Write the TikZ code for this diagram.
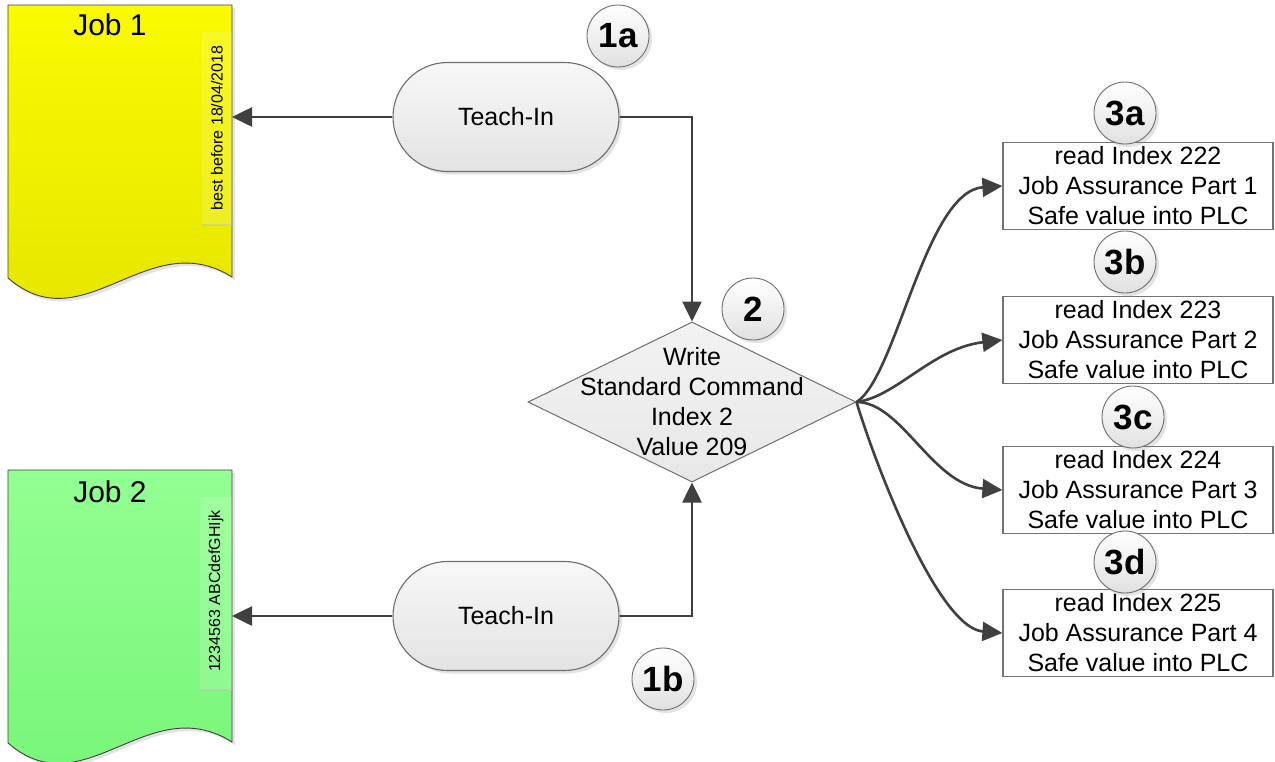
\documentclass[tikz,border=0pt]{standalone}
\usepackage{fontspec}
\setmainfont{Liberation Sans}
\usetikzlibrary{arrows.meta,shapes.geometric,shapes.misc,shadows}

\definecolor{wire}{HTML}{404040}
\definecolor{rim}{HTML}{6E6E6E}
\definecolor{yelTop}{RGB}{250,250,0}
\definecolor{yelBot}{RGB}{228,228,0}
\definecolor{grnTop}{RGB}{146,255,146}
\definecolor{grnBot}{RGB}{118,245,118}

\tikzset{
  bodyfont/.style={font=\fontsize{25pt}{30pt}\selectfont},
  softshadow/.style={drop shadow={opacity=0.22, shadow xshift=3pt, shadow yshift=-3pt}},
  conn/.style={draw=wire, line width=2.6pt, -{Triangle[length=20pt,width=19pt]}},
  doc/.style={draw=wire, line width=0.9pt, softshadow},
  strip/.style={fill=white, fill opacity=0.14},
  stripedge/.style={draw=black!25, draw opacity=0.5, line width=1.5pt},
  teach/.style={shape=rounded rectangle, minimum width=226pt, minimum height=109pt,
    inner sep=0pt, draw=rim, line width=1.1pt, top color=white!97!black,
    bottom color=white!89!black, softshadow, bodyfont},
  decide/.style={shape=diamond, minimum width=328pt, minimum height=160pt, inner sep=0pt,
    draw=rim, line width=1pt, top color=white!95!black, bottom color=white!91!black},
  readbox/.style={shape=rectangle, minimum width=270pt, minimum height=87pt, inner sep=0pt,
    draw=black!55, line width=1.2pt, fill=white, align=center, bodyfont},
  badge/.style={shape=circle, minimum size=62pt, inner sep=0pt, draw=rim, line width=0.9pt,
    top color=white, bottom color=white!88!black, softshadow,
    font=\fontsize{35pt}{40pt}\selectfont\bfseries},
}

\begin{document}
\begin{tikzpicture}[x=1pt,y=-1pt]
\useasboundingbox (0,0) rectangle (1275,761);

% ---- Job 1 document (yellow) ----
\path[doc, top color=yelTop, bottom color=yelBot]
  (8,5) -- (232,5) -- (232,277) .. controls (148,224) and (84,344) .. (8,278) -- cycle;
\path[strip] (202,32) rectangle (232,225);
\draw[stripedge] (202,225) -- (232,225);
\node[font=\fontsize{30pt}{34pt}\selectfont] (job1) at (110,25) {Job 1};
\node[rotate=90, font=\fontsize{16pt}{18pt}\selectfont] (bb1) at (217,128) {best before 18/04/2018};
\coordinate (job1in) at (232,117);

% ---- Job 2 document (green) ----
\path[doc, top color=grnTop, bottom color=grnBot]
  (8,470) -- (232,470) -- (232,742) .. controls (148,689) and (84,809) .. (8,743) -- cycle;
\path[strip] (200,497) rectangle (232,690);
\draw[stripedge] (200,690) -- (232,690);
\node[font=\fontsize{30pt}{34pt}\selectfont] (job2) at (110,492) {Job 2};
\node[rotate=90, font=\fontsize{16pt}{18pt}\selectfont] (bb2) at (216,591) {1234563 ABCdefGHIjk};
\coordinate (job2in) at (232,616);

% ---- Teach-In steps ----
\node[teach] (teachA) at (506,117) {Teach-In};
\node[teach] (teachB) at (506,616) {Teach-In};

% ---- decision ----
\node[decide] (cmd) at (692,402) {};
\node[bodyfont, align=center] (cmdtext) at (cmd.center) {Write\\Standard Command\\Index 2\\Value 209};

% ---- read boxes ----
\node[readbox] (r1) at (1138,186) {read Index 222\\Job Assurance Part 1\\Safe value into PLC};
\node[readbox] (r2) at (1138,340) {read Index 223\\Job Assurance Part 2\\Safe value into PLC};
\node[readbox] (r3) at (1138,490) {read Index 224\\Job Assurance Part 3\\Safe value into PLC};
\node[readbox] (r4) at (1138,633) {read Index 225\\Job Assurance Part 4\\Safe value into PLC};

% ---- connectors ----
\draw[conn] (teachA.west) -- (job1in);
\draw[conn] (teachB.west) -- (job2in);
\draw[conn] (teachA.east) -| (cmd.north);
\draw[conn] (teachB.east) -| (cmd.south);
\draw[conn] (cmd.east) .. controls +(40,-25) and +(-77,5) .. (r1.west);
\draw[conn] (cmd.east) .. controls +(40,-5) and +(-70,8) .. (r2.west);
\draw[conn] (cmd.east) .. controls +(45,0) and +(-70,-5) .. (r3.west);
\draw[conn] (cmd.east) .. controls +(18,60) and +(-65,-5) .. (r4.west);

% ---- step badges ----
\node[badge] (s1a) at (618,36) {1a};
\node[badge] (s1b) at (663,679) {1b};
\node[badge] (s2) at (753,309) {2};
\node[badge] (s3a) at (1125,113) {3a};
\node[badge] (s3b) at (1125,262) {3b};
\node[badge] (s3c) at (1133,417) {3c};
\node[badge] (s3d) at (1125,562) {3d};
\end{tikzpicture}
\end{document}
